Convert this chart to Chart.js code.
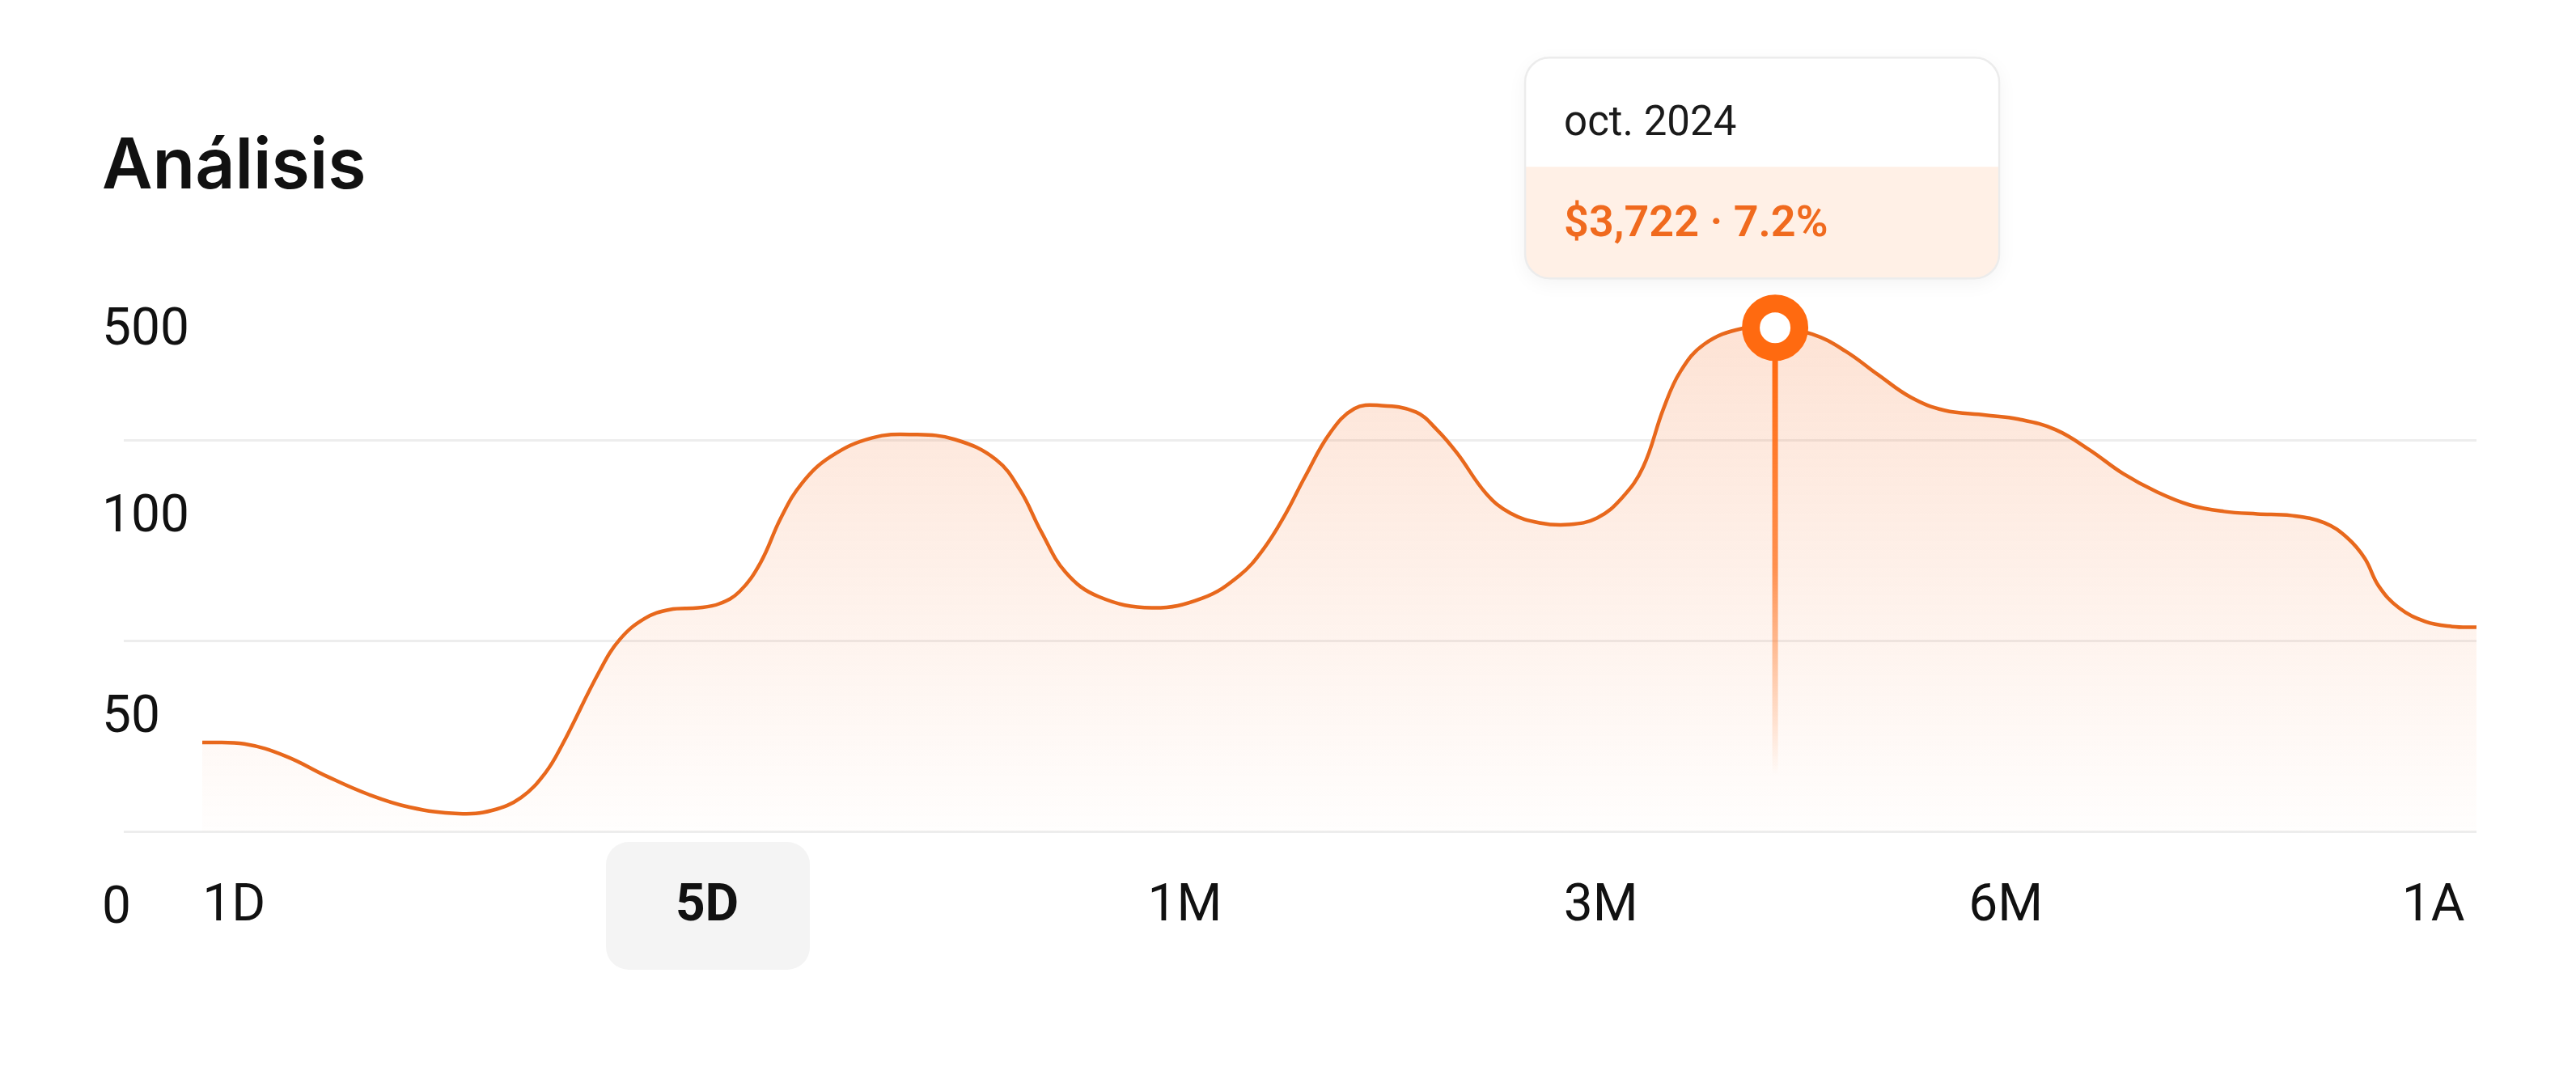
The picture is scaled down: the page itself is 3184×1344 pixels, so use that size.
<!DOCTYPE html>
<html lang="es">
<head>
<meta charset="utf-8">
<title>Análisis</title>
<script src="https://cdn.jsdelivr.net/npm/chart.js@4.4.1/dist/chart.umd.min.js"></script>
<style>
  html, body { margin: 0; padding: 0; background: #fff; }
  #wrap { width: 3184px; height: 1344px; }
</style>
</head>
<body>
<div id="wrap"><canvas id="chart" width="3184" height="1344"></canvas></div>
<script>
// Serie (x en % del ancho del periodo, y en unidades del eje)
const xValues = [0, 1.85, 3.66, 5.48, 7.29, 9.11, 11.28, 12.74, 14.02, 15.08, 15.83, 17.47, 18.36, 19.46,
  20.56, 21.81, 22.73, 23.62, 24.55, 25.44, 26.36, 27.64, 29.46, 31.27, 33.08, 34.9, 35.97, 36.89, 37.96,
  39.42, 41.76, 43.97, 45.61, 46.67, 47.6, 48.49, 49.59, 50.66, 51.76, 53.36, 54.29, 55.18, 56.46, 57.52,
  58.8, 60.09, 61.33, 62.43, 63.36, 64.25, 65.0, 66.06, 67.7, 69.16, 70.79, 72.25, 73.68, 75.13, 76.59,
  78.41, 79.86, 81.5, 82.99, 84.45, 85.95, 87.41, 88.9, 90.36, 91.85, 93.31, 94.34, 95.09, 95.7, 96.59,
  97.76, 98.93, 100];
const yValues = [46.2, 45.4, 39.1, 28.6, 19.3, 12.6, 9.2, 10.9, 17.6, 30.3, 45.0, 83.2, 99.6, 110.5,
  115.1, 116.0, 118.1, 124.4, 139.5, 162.6, 180.5, 194.5, 204.2, 205.9, 203.4, 192.9, 176.9, 155.5, 134.5,
  121.8, 116.0, 121.0, 132.8, 146.6, 164.0, 184.0, 206.7, 219.3, 221.0, 217.6, 208.4, 196.2, 175.2, 165.1,
  160.1, 159.2, 162.6, 173.1, 189.1, 219.3, 238.7, 252.9, 260.9, 261.3, 258.0, 249.2, 237.0, 225.2, 218.5,
  216.0, 213.9, 208.4, 197.9, 185.7, 176.1, 169.3, 166.0, 164.7, 163.9, 160.1, 152.1, 141.6, 127.3, 116.0,
  108.8, 106.3, 105.9];

const xTickValues = [1.4, 22.2, 43.2, 61.5, 79.3, 98.1];
const xTickLabels = ['1D', '5D', '1M', '3M', '6M', '1A'];
const selectedTab = '5D';

const yTickValues = [0, 99, 203, 300];
const yTickLabels = ['0', '50', '100', '500'];

const peakIndex = 53;
const tooltipTitle = 'oct. 2024';
const tooltipValue = '$3,722 · 7.2%';

const ORANGE = '#ff6a10';
const LINE = '#e8681c';
const GRID = '#ededed';

Chart.defaults.font.family = 'Roboto';
Chart.defaults.color = '#111';

// fondo gris redondeado de la pestaña activa
const tabBackdrop = {
  id: 'tabBackdrop',
  beforeDraw(chart) {
    const xs = chart.scales.x;
    const i = xTickLabels.indexOf(selectedTab);
    if (i < 0) return;
    const cx = xs.getPixelForValue(xTickValues[i]);
    const cy = xs.top + 92;
    const ctx = chart.ctx;
    ctx.save();
    ctx.fillStyle = '#f4f4f4';
    ctx.beginPath();
    ctx.roundRect(cx - 125, cy - 79, 252, 158, 28);
    ctx.fill();
    ctx.restore();
  }
};

// linea vertical + caja del punto activo
const peakMarker = {
  id: 'peakMarker',
  afterDatasetsDraw(chart) {
    const pt = chart.getDatasetMeta(0).data[peakIndex];
    const ctx = chart.ctx;
    const top = pt.y + 40;
    const bottom = chart.chartArea.bottom - 70;
    const g = ctx.createLinearGradient(0, top, 0, bottom);
    g.addColorStop(0, 'rgba(255,106,16,1)');
    g.addColorStop(0.5, 'rgba(255,120,40,0.8)');
    g.addColorStop(1, 'rgba(255,140,70,0)');
    ctx.save();
    ctx.strokeStyle = g;
    ctx.lineWidth = 7;
    ctx.beginPath();
    ctx.moveTo(pt.x, top);
    ctx.lineTo(pt.x, bottom);
    ctx.stroke();
    ctx.restore();
  },
  afterDraw(chart) {
    const pt = chart.getDatasetMeta(0).data[peakIndex];
    const ctx = chart.ctx;
    const w = 586, h = 273, r = 30;
    const left = pt.x - 309;
    const top = pt.y - 334;
    const split = 135;

    ctx.save();
    ctx.shadowColor = 'rgba(0,0,0,0.05)';
    ctx.shadowBlur = 24;
    ctx.shadowOffsetY = 6;
    ctx.fillStyle = '#fff';
    ctx.beginPath();
    ctx.roundRect(left, top, w, h, r);
    ctx.fill();
    ctx.restore();

    ctx.save();
    ctx.beginPath();
    ctx.roundRect(left, top, w, h, r);
    ctx.clip();
    ctx.fillStyle = '#fff0e6';
    ctx.fillRect(left, top + split, w, h - split);
    ctx.restore();

    ctx.save();
    ctx.strokeStyle = '#ececec';
    ctx.lineWidth = 2.5;
    ctx.beginPath();
    ctx.roundRect(left, top, w, h, r);
    ctx.stroke();

    ctx.textBaseline = 'alphabetic';
    ctx.textAlign = 'left';
    ctx.fillStyle = '#1a1a1a';
    ctx.font = '400 51px Roboto';
    ctx.fillText(tooltipTitle, left + 48, top + 96);
    ctx.fillStyle = '#f06a1e';
    ctx.font = '600 54px Roboto';
    ctx.fillText(tooltipValue, left + 48, top + 221);
    ctx.restore();
  }
};

const ctx = document.getElementById('chart').getContext('2d');

new Chart(ctx, {
  type: 'line',
  data: {
    datasets: [{
      data: xValues.map((x, i) => ({ x: x, y: yValues[i] })),
      borderColor: LINE,
      borderWidth: 4.5,
      tension: 0.4,
      fill: 'start',
      backgroundColor(c) {
        const area = c.chart.chartArea;
        if (!area) return 'rgba(0,0,0,0)';
        const g = c.chart.ctx.createLinearGradient(0, area.top, 0, area.bottom);
        g.addColorStop(0, 'rgba(247,125,60,0.25)');
        g.addColorStop(0.6, 'rgba(247,125,60,0.10)');
        g.addColorStop(1, 'rgba(247,125,60,0.01)');
        return g;
      },
      pointRadius: c => c.dataIndex === peakIndex ? 30 : 0,
      pointHoverRadius: c => c.dataIndex === peakIndex ? 30 : 0,
      pointBorderWidth: 22,
      pointBorderColor: ORANGE,
      pointBackgroundColor: '#fff'
    }]
  },
  options: {
    responsive: false,
    devicePixelRatio: 1,
    animation: false,
    events: [],
    layout: { padding: { top: 100, left: 126, right: 123, bottom: 166 } },
    plugins: {
      legend: { display: false },
      tooltip: { enabled: false },
      title: {
        display: true,
        text: 'Análisis',
        align: 'start',
        color: '#111',
        font: { family: 'Inter', size: 86, weight: '600', lineHeight: 1.2 },
        padding: { top: 55.4, bottom: 54.4 }
      }
    },
    scales: {
      x: {
        type: 'linear',
        min: 0,
        max: 100,
        afterBuildTicks: s => { s.ticks = xTickValues.map(v => ({ value: v })); },
        afterFit: s => { s.height = 150; },
        grid: { display: false, drawTicks: false },
        border: { display: false },
        ticks: {
          autoSkip: false,
          maxRotation: 0,
          padding: 56,
          color: '#111',
          callback: (v, i) => xTickLabels[i],
          font: c => ({
            family: 'Roboto',
            size: 64,
            weight: xTickLabels[c.index] === selectedTab ? '700' : '400'
          })
        }
      },
      y: {
        min: 0,
        max: 300,
        afterBuildTicks: s => { s.ticks = yTickValues.map(v => ({ value: v })); },
        afterFit: s => { s.width = 124; },
        border: { display: false },
        grid: {
          color: c => c.tick && c.tick.value === yTickValues[yTickValues.length - 1] ? 'rgba(0,0,0,0)' : GRID,
          tickColor: c => c.tick && c.tick.value === yTickValues[yTickValues.length - 1] ? 'rgba(0,0,0,0)' : GRID,
          lineWidth: 3,
          drawTicks: true,
          tickLength: 97
        },
        ticks: {
          crossAlign: 'far',
          labelOffset: 97,
          color: '#111',
          font: { family: 'Roboto', size: 64 },
          callback: (v, i) => yTickLabels[i]
        }
      }
    }
  },
  plugins: [tabBackdrop, peakMarker]
});
</script>
</body>
</html>
